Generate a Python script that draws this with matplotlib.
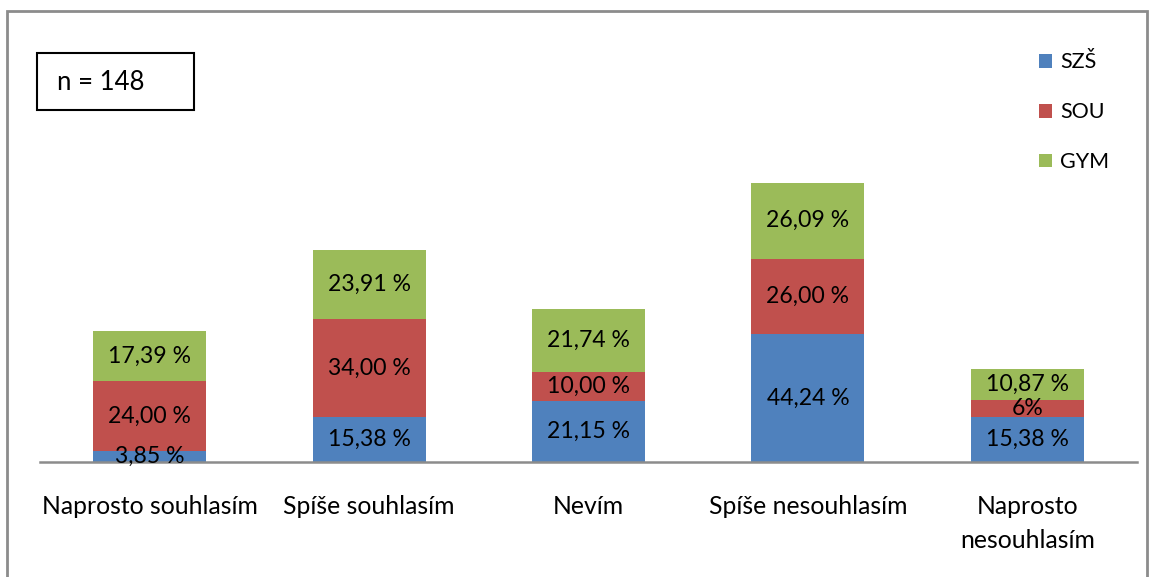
import matplotlib
matplotlib.use("Agg")
import matplotlib.pyplot as plt
from matplotlib.patches import Rectangle

categories = ["Naprosto souhlasím", "Spíše souhlasím", "Nevím", "Spíše nesouhlasím", "Naprosto\nnesouhlasím"]
series_names = ["SZŠ", "SOU", "GYM"]
szs = [3.85, 15.38, 21.15, 44.24, 15.38]
sou = [24.00, 34.00, 10.00, 26.00, 6.00]
gym = [17.39, 23.91, 21.74, 26.09, 10.87]
szs_labels = ["3,85 %", "15,38 %", "21,15 %", "44,24 %", "15,38 %"]
sou_labels = ["24,00 %", "34,00 %", "10,00 %", "26,00 %", "6%"]
gym_labels = ["17,39 %", "23,91 %", "21,74 %", "26,09 %", "10,87 %"]
colors = ["#4F81BD", "#C0504D", "#9BBB59"]

plt.rcParams['font.family'] = ['Lato', 'DejaVu Sans']

W, H = 1152, 577
fig = plt.figure(figsize=(W / 100, H / 100), dpi=100)

# outer frame
fig.patches.append(Rectangle((7 / W, -0.01), (1147 - 7) / W, (H - 11) / H + 0.01,
                             transform=fig.transFigure, fill=False,
                             edgecolor="#8C8C8C", linewidth=2))

ax = fig.add_axes([40 / W, (H - 462) / H, 1097 / W, 289.6 / H])
ax.set_xlim(-0.5, len(categories) - 0.5)
ax.set_ylim(0, 100)

FS_DATA = 16.6
FS_CAT = 17.8
x = list(range(len(categories)))
bw = 0.515
bottoms = [0] * len(categories)
for vals, labs, c, name in zip([szs, sou, gym], [szs_labels, sou_labels, gym_labels], colors, series_names):
    ax.bar(x, vals, bw, bottom=bottoms, color=c, label=name, zorder=2)
    for xi, v, b, lab in zip(x, vals, bottoms, labs):
        ax.text(xi, b + v / 2, lab, ha="center", va="center", fontsize=FS_DATA, color="black", zorder=3)
    bottoms = [b + v for b, v in zip(bottoms, vals)]

for s in ["top", "right", "left"]:
    ax.spines[s].set_visible(False)
ax.spines["bottom"].set_color("#8C8C8C")
ax.spines["bottom"].set_linewidth(1.8)
ax.set_yticks([])
ax.set_xticks(x)
ax.set_xticklabels(categories, fontsize=FS_CAT, linespacing=1.55)
ax.tick_params(axis="x", length=0, pad=24)
for t in ax.get_xticklabels():
    t.set_verticalalignment("top")

# legend
leg = fig.legend(loc="upper left", bbox_to_anchor=(1020 / W, 1 - 33 / H), frameon=False,
                 fontsize=15.5, handlelength=0.6, handleheight=0.6, handletextpad=0.35,
                 labelspacing=1.39)

# n box
fig.patches.append(Rectangle((37 / W, 1 - 110 / H), (194 - 37) / W, (110 - 53) / H,
                             transform=fig.transFigure, fill=False, edgecolor="black", linewidth=1.5))
fig.text(57 / W, 1 - 82 / H, "n = 148", ha="left", va="center", fontsize=18.5)

fig.savefig("out.png", dpi=100)
